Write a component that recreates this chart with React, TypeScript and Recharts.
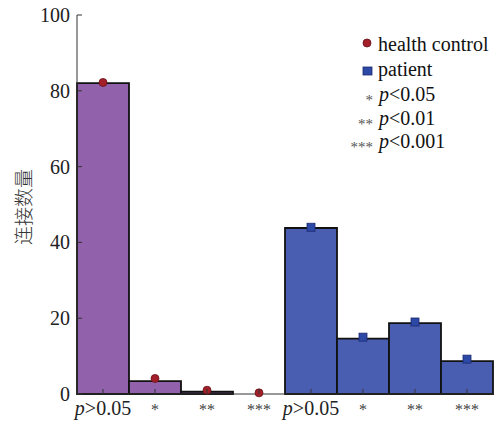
import { ComposedChart, Bar, Scatter, XAxis, YAxis, Cell, Customized } from "recharts";

const categories = ["p>0.05", "*", "**", "***", "p>0.05", "*", "**", "***"];
const groups = ["health", "health", "health", "health", "patient", "patient", "patient", "patient"];
const barValues = [82, 3.4, 0.6, 0, 43.8, 14.6, 18.7, 8.7];
const healthMarks = [82.2, 4.1, 1, 0.3, null, null, null, null];
const patientMarks = [null, null, null, null, 44, 15, 19, 9.2];
const yTicks = [0, 20, 40, 60, 80, 100];

const data = categories.map((c, i) => ({
  idx: i,
  cat: c,
  group: groups[i],
  count: barValues[i],
  health: healthMarks[i],
  patient: patientMarks[i],
}));

const SERIF = { fontFamily: "'Liberation Serif', 'Times New Roman', serif" };
const PURPLE = "#9161ab";
const BLUE = "#4a5eb1";

const XTick = ({ x, y, payload }: any) => {
  const label = categories[payload.value];
  const axisY = y - 4;
  return (
    <g>
      <line x1={x} x2={x} y1={axisY} y2={axisY - 5} stroke="#333" strokeWidth={1} />
      {label.startsWith("p") ? (
        <text x={x} y={y + 17} textAnchor="middle" style={SERIF} fontSize={20} fill="#222">
          <tspan fontStyle="italic">p</tspan>
          <tspan>{label.slice(1)}</tspan>
        </text>
      ) : (
        <text x={x} y={y + 17} textAnchor="middle" style={SERIF} fontSize={16} fill="#444">
          {label}
        </text>
      )}
    </g>
  );
};

const YTick = ({ x, y, payload }: any) => (
  <g>
    <line x1={x + 7} x2={x + 12} y1={y} y2={y} stroke="#333" strokeWidth={1} />
    <text x={x} y={y + 7} textAnchor="end" style={SERIF} fontSize={20} fill="#222">
      {payload.value}
    </text>
  </g>
);

const Dot = ({ cx, cy }: any) =>
  cy == null ? null : <circle cx={cx} cy={cy} r={4} fill="#a3202a" stroke="#6a1018" strokeWidth={0.8} />;

const Square = ({ cx, cy }: any) =>
  cy == null ? null : (
    <rect x={cx - 4} y={cy - 4} width={8} height={8} fill="#2c49a6" stroke="#1a2a70" strokeWidth={0.8} />
  );

const LegendBox = () => (
  <g>
    <g style={SERIF} fontSize={20} fill="#111">
      <circle cx={367} cy={43} r={4} fill="#a3202a" stroke="#6a1018" strokeWidth={0.8} />
      <text x={378} y={51}>health control</text>
      <rect x={363} y={67} width={9} height={8} fill="#2c49a6" stroke="#1a2a70" strokeWidth={0.8} />
      <text x={378} y={76}>patient</text>
      <text x={373} y={105} textAnchor="end" fontSize={15} fill="#555">*</text>
      <text x={379} y={101}><tspan fontStyle="italic">p</tspan>&lt;0.05</text>
      <text x={373} y={129} textAnchor="end" fontSize={15} fill="#555">**</text>
      <text x={379} y={125}><tspan fontStyle="italic">p</tspan>&lt;0.01</text>
      <text x={373} y={152} textAnchor="end" fontSize={15} fill="#555">***</text>
      <text x={379} y={148}><tspan fontStyle="italic">p</tspan>&lt;0.001</text>
    </g>
    <text
      x={22}
      y={207}
      transform="rotate(-90 22 207)"
      textAnchor="middle"
      dominantBaseline="central"
      style={{ fontFamily: "'Noto Sans CJK SC', sans-serif" }}
      fontWeight={300}
      fontSize={19}
      fill="#333"
    >
      连接数量
    </text>
  </g>
);

export default function App() {
  return (
    <div style={{ position: "absolute", left: 0, top: 0, width: 495, height: 423, background: "#fff" }}>
      <ComposedChart
        width={495}
        height={423}
        data={data}
        margin={{ top: 15, right: 2, left: 0, bottom: 0 }}
        barCategoryGap={0}
        barGap={0}
      >
        <XAxis
          dataKey="idx"
          type="category"
          height={29}
          tickLine={false}
          tickSize={0}
          tickMargin={4}
          interval={0}
          tick={<XTick />}
          axisLine={{ stroke: "#333", strokeWidth: 1 }}
        />
        <YAxis
          width={77}
          domain={[0, 100]}
          ticks={yTicks}
          tickLine={false}
          tickSize={0}
          tickMargin={7}
          tick={<YTick />}
          axisLine={{ stroke: "#333", strokeWidth: 1 }}
        />
        <Bar dataKey="count" stroke="#111" strokeWidth={1.8} isAnimationActive={false}>
          {data.map((d, i) => (
            <Cell key={i} fill={d.group === "health" ? PURPLE : BLUE} />
          ))}
        </Bar>
        <Scatter dataKey="health" shape={<Dot />} isAnimationActive={false} />
        <Scatter dataKey="patient" shape={<Square />} isAnimationActive={false} />
        <Customized component={LegendBox} />
      </ComposedChart>
    </div>
  );
}
